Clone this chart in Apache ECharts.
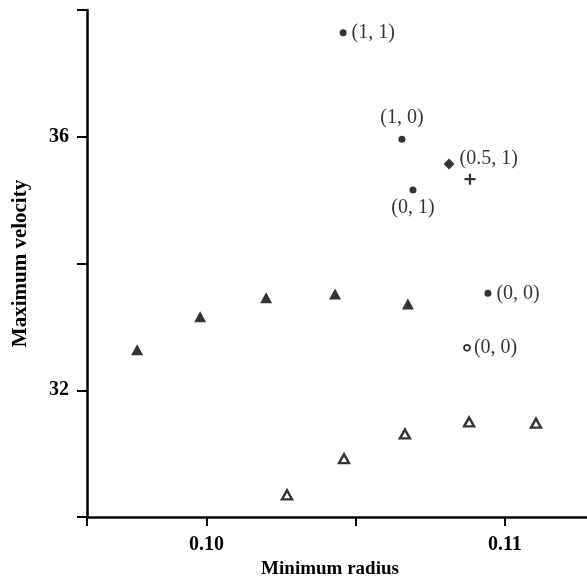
<!DOCTYPE html>
<html>
<head>
<meta charset="utf-8">
<script src="https://cdn.jsdelivr.net/npm/echarts@6/dist/echarts.min.js"></script>
<style>
    html, body { margin: 0; padding: 0; background: #fff; }
    #main { width: 587px; height: 581px; }
</style>
</head>
<body>
<div id="main"></div>
<script>
    // filled triangles
    const fillTriX = [0.09768, 0.09979, 0.10200, 0.10431, 0.10675];
    const fillTriY = [32.64, 33.16, 33.46, 33.52, 33.36];
    // open triangles
    const openTriX = [0.10270, 0.10461, 0.10665, 0.10880, 0.11104];
    const openTriY = [30.35, 30.92, 31.31, 31.50, 31.48];
    // filled dots with labels
    const dotX = [0.10458, 0.10655, 0.10692, 0.10943];
    const dotY = [37.64, 35.96, 35.16, 33.53];
    const dotLabels = ['(1, 1)', '(1, 0)', '(0, 1)', '(0, 0)'];
    // single points
    const diamondX = [0.10813], diamondY = [35.57], diamondLabels = ['(0.5, 1)'];
    const plusX = [0.10883], plusY = [35.33];
    const openDotX = [0.10873], openDotY = [32.67], openDotLabels = ['(0, 0)'];

    const xTicks = [0.096, 0.10, 0.105, 0.11];
    const xTickLabels = [0.10, 0.11];
    const yTicks = [30, 32, 34, 36, 38];
    const yTickLabels = [32, 36];

    const serif = 'Liberation Serif';
    const dotLabelPos = ['right', 'top', 'bottom', 'right'];

    function pairs(xs, ys) {
        return xs.map((x, i) => [x, ys[i]]);
    }

    let myChart = echarts.init(document.getElementById('main'));

    let labelStyle = {
        show: true,
        fontFamily: serif,
        fontSize: 20,
        color: '#000',
        distance: 5
    };

    let option = {
        animation: false,
        backgroundColor: '#fff',
        grid: { left: 87, right: 0, top: 10, bottom: 64, outerBoundsMode: 'none', containLabel: false },
        xAxis: {
            type: 'value',
            min: 0.096,
            max: 0.11275,
            name: 'Minimum radius',
            nameLocation: 'middle',
            nameGap: 42,
            nameTextStyle: { fontFamily: serif, fontSize: 19, fontWeight: 'bold', color: '#000', padding: [0, 14, 0, 0] },
            axisLine: { show: true, onZero: false, lineStyle: { color: '#000', width: 2.5 } },
            axisTick: { show: true, inside: false, length: 9, customValues: xTicks, lineStyle: { color: '#000', width: 2 } },
            axisLabel: {
                customValues: xTickLabels,
                margin: 18,
                fontFamily: serif, fontSize: 20, fontWeight: 'bold', color: '#000',
                formatter: v => v.toFixed(2)
            },
            splitLine: { show: false }
        },
        yAxis: {
            type: 'value',
            min: 30,
            max: 38,
            name: 'Maximum velocity',
            nameLocation: 'middle',
            nameGap: 56,
            nameTextStyle: { fontFamily: serif, fontSize: 21, fontWeight: 'bold', color: '#000' },
            axisLine: { show: true, onZero: false, lineStyle: { color: '#000', width: 2.5 } },
            axisTick: { show: true, inside: false, length: 10, customValues: yTicks, lineStyle: { color: '#000', width: 2 } },
            axisLabel: {
                customValues: yTickLabels,
                margin: 18,
                fontFamily: serif, fontSize: 20, fontWeight: 'bold', color: '#000'
            },
            splitLine: { show: false }
        },
        series: [
            {
                type: 'scatter',
                symbol: 'triangle',
                symbolSize: [12, 11],
                itemStyle: { color: '#000' },
                data: pairs(fillTriX, fillTriY)
            },
            {
                type: 'scatter',
                symbol: 'triangle',
                symbolSize: [10, 9],
                itemStyle: { color: '#fff', borderColor: '#000', borderWidth: 2.4 },
                data: pairs(openTriX, openTriY)
            },
            {
                type: 'scatter',
                symbol: 'circle',
                symbolSize: 7,
                itemStyle: { color: '#000' },
                data: dotX.map((x, i) => ({
                    value: [x, dotY[i]],
                    label: Object.assign({}, labelStyle, {
                        position: dotLabelPos[i],
                        distance: dotLabelPos[i] === 'top' ? 8 : (dotLabelPos[i] === 'bottom' ? 4 : 5),
                        formatter: dotLabels[i]
                    })
                }))
            },
            {
                type: 'scatter',
                symbol: 'diamond',
                symbolSize: 11,
                itemStyle: { color: '#000' },
                data: diamondX.map((x, i) => ({
                    value: [x, diamondY[i]],
                    label: Object.assign({}, labelStyle, { position: 'right', offset: [0, -5], formatter: diamondLabels[i] })
                }))
            },
            {
                type: 'scatter',
                symbol: 'path://M4,0H6V4H10V6H6V10H4V6H0V4H4Z',
                symbolSize: 11,
                itemStyle: { color: '#000' },
                data: pairs(plusX, plusY)
            },
            {
                type: 'scatter',
                symbol: 'circle',
                symbolSize: 6,
                itemStyle: { color: '#fff', borderColor: '#000', borderWidth: 1.8 },
                data: openDotX.map((x, i) => ({
                    value: [x, openDotY[i]],
                    label: Object.assign({}, labelStyle, { position: 'right', distance: 3, formatter: openDotLabels[i] })
                }))
            }
        ]
    };

    myChart.setOption(option, true);
</script>
</body>
</html>
